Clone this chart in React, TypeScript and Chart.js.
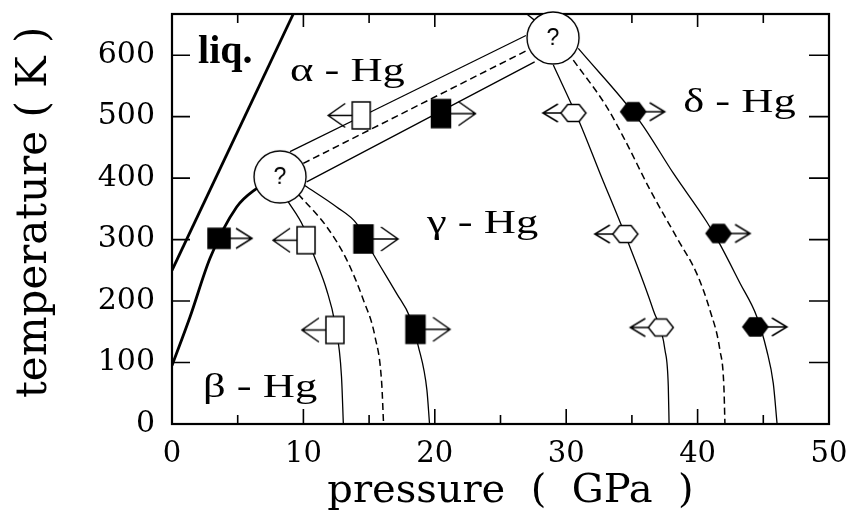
import React, { useEffect, useRef } from 'react';
import { Chart, registerables } from 'chart.js';
Chart.register(...registerables);

// ---- axes ----
const X_MIN = 0;
const X_MAX = 50;
const Y_MIN = 0;
const Y_MAX = 667;
const X_TICK_LABELS = [0, 10, 20, 30, 40, 50];
const Y_TICK_LABELS = [0, 100, 200, 300, 400, 500, 600];
const X_MAJOR_TICKS = [10, 20, 30, 40];
const X_MINOR_TICKS = [5, 15, 25, 35, 45];
const X_TOP_MAJOR_TICKS = [10, 20, 40];
const X_TOP_MINOR_TICKS = [5, 15, 35, 45];
const Y_SIDE_TICKS = [100, 200, 300, 400, 500, 600];
const X_TITLE = '\u2002pressure  (  GPa  )';
const Y_TITLE = ' temperature ( K )';

// ---- phase boundaries (pressure GPa, temperature K) ----
const liqP = [0, 9.23];
const liqT = [250, 667];
const betaAlphaP = [0, 1.37, 2.9, 4.92, 6.3, 6.9];
const betaAlphaT = [95, 174, 270, 353, 381, 388];
const agUpperP = [8.98, 26.94];
const agUpperT = [443, 632];
const agMidP = [9.99, 27.04];
const agMidT = [424, 608];
const agLowerP = [10.25, 27.6];
const agLowerT = [394, 589];
const bgLeftP = [8.8, 10.0, 10.75, 11.77, 12.4, 12.9, 13.04];
const bgLeftT = [363, 321, 277, 218, 164, 77, 0];
const bgMidP = [9.6, 11.77, 13.3, 14.56, 15.45, 15.96, 16.1];
const bgMidT = [374, 321, 267, 202, 142, 66, 0];
const bgRightP = [10.1, 12.53, 14.05, 15.3, 17.1, 18.1, 18.75, 19.4, 19.6];
const bgRightT = [388, 353, 326, 277, 212, 174, 126, 55, 0];
const gdLeftP = [29.02, 31.05, 32.57, 34.5, 36.63, 37.52, 37.77, 37.83];
const gdLeftT = [584, 489, 408, 307, 185, 120, 61, 0];
const gdMidP = [30.54, 33.08, 34.47, 36.38, 38.5, 39.93, 40.94, 41.7, 42.0, 42.08];
const gdMidT = [592, 516, 462, 381, 300, 245, 185, 120, 61, 0];
const gdRightP = [30.92, 35.62, 38.15, 40.69, 41.58, 43.23, 44.5, 45.26, 45.76, 46.05];
const gdRightT = [611, 492, 408, 329, 297, 229, 175, 120, 66, 0];
const topSegP = [27.0, 27.7];
const topSegT = [667, 655];

// ---- triple points (?) ----
const tripleP = [8.22, 29.0];
const tripleT = [402, 628];

// ---- transition markers ----
const openSqP = [14.4, 10.2, 12.4];
const openSqT = [502, 299, 153];
const filledSqP = [3.58, 20.47, 14.57, 18.53];
const filledSqT = [302, 505, 301, 154];
const openHexP = [30.55, 34.5, 37.2];
const openHexT = [506, 309, 157];
const filledHexP = [35.1, 41.6, 44.4];
const filledHexT = [508, 310, 158];

// ---- phase labels ----
const phaseLabels = ['liq.', 'α - Hg', 'β - Hg', 'γ - Hg', 'δ - Hg'];
const phaseLabelP = [1.98, 8.98, 2.36, 19.4, 38.9];
const phaseLabelT = [587, 558, 44, 311, 507];

const pts = (xs: number[], ys: number[]) => xs.map((x, i) => ({ x, y: ys[i] }));

function makeMarker(shape: 'square' | 'hex', filled: boolean, dir: number, w: number, h: number,
  arrowLen: number, chevBack: number, chevHalf: number): HTMLCanvasElement {
  const half = Math.ceil(w / 2 + arrowLen + 3);
  const cw = half * 2;
  const ch = Math.ceil(Math.max(h, chevHalf * 2) + 6);
  const c = document.createElement('canvas');
  c.width = cw;
  c.height = ch;
  const ctx = c.getContext('2d')!;
  const cx = cw / 2;
  const cy = ch / 2;
  ctx.lineWidth = 1.5;
  ctx.strokeStyle = '#000';
  const edge = cx + dir * w / 2;
  const tip = cx + dir * (w / 2 + arrowLen);
  ctx.beginPath();
  ctx.moveTo(edge, cy);
  ctx.lineTo(tip, cy);
  ctx.moveTo(tip - dir * chevBack, cy - chevHalf);
  ctx.lineTo(tip, cy);
  ctx.lineTo(tip - dir * chevBack, cy + chevHalf);
  ctx.stroke();
  ctx.beginPath();
  if (shape === 'square') {
    ctx.rect(cx - w / 2, cy - h / 2, w, h);
  } else {
    const q = w * 0.27;
    ctx.moveTo(cx - w / 2, cy);
    ctx.lineTo(cx - w / 2 + q, cy - h / 2);
    ctx.lineTo(cx + w / 2 - q, cy - h / 2);
    ctx.lineTo(cx + w / 2, cy);
    ctx.lineTo(cx + w / 2 - q, cy + h / 2);
    ctx.lineTo(cx - w / 2 + q, cy + h / 2);
    ctx.closePath();
  }
  ctx.fillStyle = filled ? '#000' : '#fff';
  ctx.fill();
  ctx.stroke();
  return c;
}

function makeQuestionCircle(r: number): HTMLCanvasElement {
  const s = Math.ceil(r * 2 + 4);
  const c = document.createElement('canvas');
  c.width = s;
  c.height = s;
  const ctx = c.getContext('2d')!;
  ctx.beginPath();
  ctx.arc(s / 2, s / 2, r, 0, Math.PI * 2);
  ctx.fillStyle = '#fff';
  ctx.fill();
  ctx.lineWidth = 1.4;
  ctx.strokeStyle = '#000';
  ctx.stroke();
  ctx.fillStyle = '#000';
  ctx.font = '23px "Liberation Sans"';
  ctx.textAlign = 'center';
  ctx.textBaseline = 'middle';
  ctx.fillText('?', s / 2, s / 2 + 1);
  return c;
}

const framePlugin = {
  id: 'frameTicksLabels',
  beforeDatasetsDraw(chart: any) {
    const { ctx, chartArea: a, scales } = chart;
    const x = scales.x;
    const y = scales.y;
    ctx.save();
    ctx.strokeStyle = '#000';
    ctx.lineWidth = 1.6;
    ctx.beginPath();
    for (const v of X_MAJOR_TICKS) {
      const px = x.getPixelForValue(v);
      ctx.moveTo(px, a.bottom);
      ctx.lineTo(px, a.bottom - 15);
    }
    for (const v of X_MINOR_TICKS) {
      const px = x.getPixelForValue(v);
      ctx.moveTo(px, a.bottom);
      ctx.lineTo(px, a.bottom - 9);
    }
    for (const v of X_TOP_MAJOR_TICKS) {
      const px = x.getPixelForValue(v);
      ctx.moveTo(px, a.top);
      ctx.lineTo(px, a.top + 13);
    }
    for (const v of X_TOP_MINOR_TICKS) {
      const px = x.getPixelForValue(v);
      ctx.moveTo(px, a.top);
      ctx.lineTo(px, a.top + 9);
    }
    for (const v of Y_SIDE_TICKS) {
      const py = y.getPixelForValue(v);
      ctx.moveTo(a.left, py);
      ctx.lineTo(a.left + 18, py);
      ctx.moveTo(a.right, py);
      ctx.lineTo(a.right - 20, py);
    }
    ctx.stroke();
    ctx.lineWidth = 2.2;
    ctx.strokeRect(a.left, a.top, a.right - a.left, a.bottom - a.top);
    ctx.restore();
  },
  afterDatasetsDraw(chart: any) {
    const { ctx, scales } = chart;
    const x = scales.x;
    const y = scales.y;
    ctx.save();
    ctx.fillStyle = '#000';
    ctx.textAlign = 'left';
    ctx.textBaseline = 'alphabetic';
    phaseLabels.forEach((t, i) => {
      const px = x.getPixelForValue(phaseLabelP[i]);
      const py = y.getPixelForValue(phaseLabelT[i]);
      ctx.save();
      ctx.translate(px, py);
      if (i === 0) {
        ctx.font = 'bold 40px "Liberation Serif"';
      } else {
        ctx.font = '33px "Liberation Serif"';
        ctx.scale(1.35, 1);
      }
      ctx.fillText(t, 0, 0);
      ctx.restore();
    });
    ctx.restore();
  },
};

export default function App() {
  const ref = useRef<HTMLCanvasElement>(null);
  useEffect(() => {
    document.body.style.margin = '0';
    const canvas = ref.current!;
    const circle = makeQuestionCircle(26);
    const openSq = makeMarker('square', false, -1, 18, 27, 24, 17, 12);
    const filledSqSmall = makeMarker('square', true, 1, 22, 20, 22, 16, 10);
    const filledSq = makeMarker('square', true, 1, 19, 28, 25, 17, 12);
    const openHex = makeMarker('hex', false, -1, 25, 17, 18, 15, 9);
    const filledHex = makeMarker('hex', true, 1, 25, 18, 19, 15, 9);

    const line = (xs: number[], ys: number[], width: number, dash: number[] = []) => ({
      data: pts(xs, ys),
      showLine: true,
      borderColor: '#000',
      borderWidth: width,
      borderDash: dash,
      pointRadius: 0,
      cubicInterpolationMode: 'monotone' as const,
      fill: false,
    });
    const markers = (xs: number[], ys: number[], style: any) => ({
      data: pts(xs, ys),
      showLine: false,
      pointStyle: style,
      pointRadius: 12,
      backgroundColor: '#000',
      borderColor: '#000',
      clip: false as any,
    });

    const chart = new Chart(canvas, {
      type: 'scatter',
      data: {
        datasets: [
          markers(tripleP, tripleT, circle),
          markers(openSqP, openSqT, openSq),
          markers(filledSqP, filledSqT, [filledSqSmall, filledSq, filledSq, filledSq]),
          markers(openHexP, openHexT, openHex),
          markers(filledHexP, filledHexT, filledHex),
          line(liqP, liqT, 2.8),
          line(betaAlphaP, betaAlphaT, 2.8),
          line(agUpperP, agUpperT, 1.3),
          line(agMidP, agMidT, 1.5, [7, 4]),
          line(agLowerP, agLowerT, 1.3),
          line(bgLeftP, bgLeftT, 1.3),
          line(bgMidP, bgMidT, 1.5, [7, 4]),
          line(bgRightP, bgRightT, 1.3),
          line(gdLeftP, gdLeftT, 1.3),
          line(gdMidP, gdMidT, 1.5, [7, 4]),
          line(gdRightP, gdRightT, 1.3),
          line(topSegP, topSegT, 1.3),
        ] as any,
      },
      options: {
        animation: false,
        responsive: false,
        devicePixelRatio: 1,
        layout: { padding: { left: 0, top: 14, right: 24, bottom: 0 } },
        plugins: { legend: { display: false }, tooltip: { enabled: false } },
        scales: {
          x: {
            type: 'linear',
            min: X_MIN,
            max: X_MAX,
            grid: { display: false, drawTicks: false },
            border: { display: false },
            afterBuildTicks: (s: any) => { s.ticks = X_TICK_LABELS.map((v) => ({ value: v })); },
            ticks: {
              padding: 13,
              color: '#000',
              font: { family: '"DejaVu Serif"', size: 29 },
              maxRotation: 0,
            },
            title: {
              display: true,
              text: X_TITLE,
              color: '#000',
              font: { family: '"DejaVu Serif"', size: 40, lineHeight: 1 },
              padding: { top: 0, bottom: 3 },
            },
            afterFit: (s: any) => { s.height = 91; s.paddingLeft = 0; s.paddingRight = 0; },
          },
          y: {
            type: 'linear',
            min: Y_MIN,
            max: Y_MAX,
            grid: { display: false, drawTicks: false },
            border: { display: false },
            afterBuildTicks: (s: any) => { s.ticks = Y_TICK_LABELS.map((v) => ({ value: v })); },
            ticks: {
              padding: 17,
              color: '#000',
              font: { family: '"DejaVu Serif"', size: 30 },
            },
            title: {
              display: true,
              text: Y_TITLE,
              color: '#000',
              font: { family: '"DejaVu Serif"', size: 42, lineHeight: 1 },
              padding: { top: 14, bottom: 0 },
            },
            afterFit: (s: any) => { s.width = 172; s.paddingTop = 0; s.paddingBottom = 0; },
          },
        },
      },
      plugins: [framePlugin],
    });
    return () => chart.destroy();
  }, []);
  return (
    <div style={{ width: 853, height: 515, background: '#fff' }}>
      <canvas ref={ref} width={853} height={515} style={{ width: 853, height: 515, display: 'block' }} />
    </div>
  );
}
